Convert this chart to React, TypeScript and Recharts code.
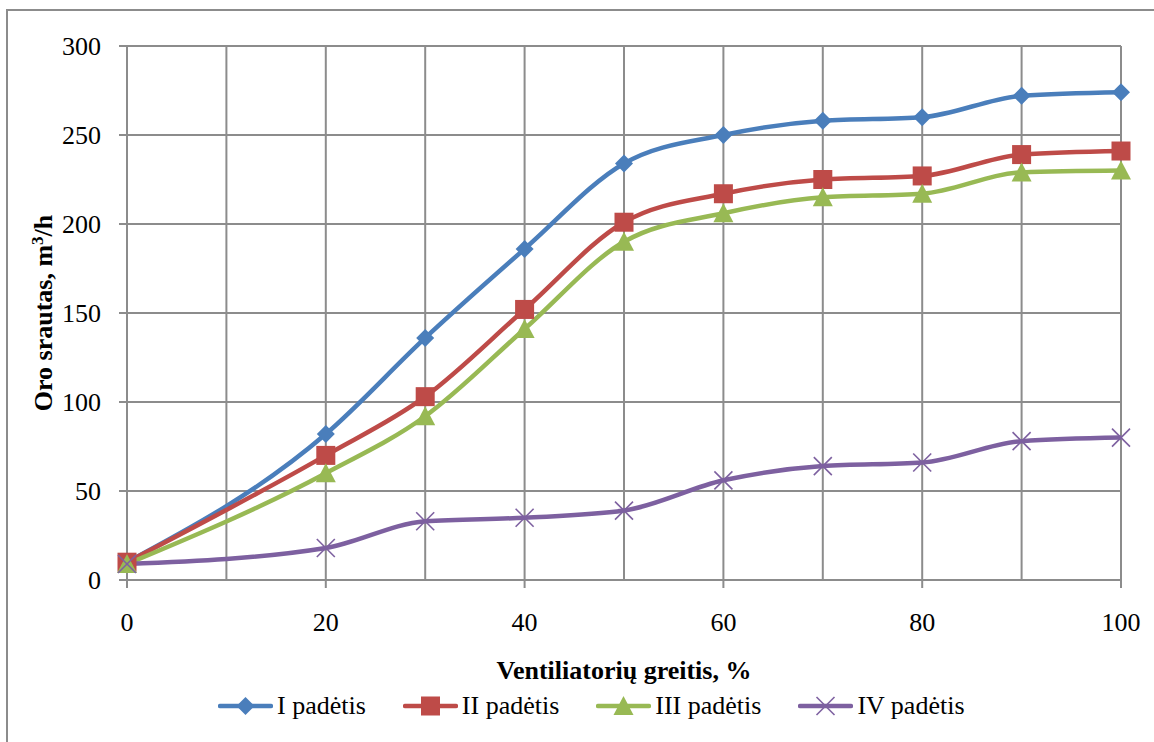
import React from 'react';
import { LineChart, Line, XAxis, YAxis, CartesianGrid, Label } from 'recharts';

// Oro srautas pagal ventiliatorių greitį, keturios padėtys
const xValues = [0, 20, 30, 40, 50, 60, 70, 80, 90, 100];
const seriesI = [10, 82, 136, 186, 234, 250, 258, 260, 272, 274];
const seriesII = [10, 70, 103, 152, 201, 217, 225, 227, 239, 241];
const seriesIII = [9, 60, 92, 141, 190, 206, 215, 217, 229, 230];
const seriesIV = [9, 18, 33, 35, 39, 56, 64, 66, 78, 80];

const xLabelTicks = [0, 20, 40, 60, 80, 100];
const xGridTicks = [0, 10, 20, 30, 40, 50, 60, 70, 80, 90, 100];
const yTicks = [0, 50, 100, 150, 200, 250, 300];

const seriesNames = ['I padėtis', 'II padėtis', 'III padėtis', 'IV padėtis'];

const data = xValues.map((x, i) => ({
  x,
  s1: seriesI[i],
  s2: seriesII[i],
  s3: seriesIII[i],
  s4: seriesIV[i],
}));

const C = {
  blue: '#4A7EBB',
  red: '#BE4B48',
  green: '#98B954',
  purple: '#7D60A0',
  grid: '#8c8c8c',
  ink: '#000000',
};

const FONT = "'Liberation Serif', 'Times New Roman', 'DejaVu Serif', serif";

type Shape = 'diamond' | 'square' | 'triangle' | 'cross';

function Marker({ cx, cy, shape, color }: { cx: number; cy: number; shape: Shape; color: string }) {
  if (shape === 'diamond') {
    return <polygon points={`${cx},${cy - 9} ${cx + 9},${cy} ${cx},${cy + 9} ${cx - 9},${cy}`} fill={color} />;
  }
  if (shape === 'square') {
    return <rect x={cx - 9.5} y={cy - 9.5} width={19} height={19} fill={color} />;
  }
  if (shape === 'triangle') {
    return <polygon points={`${cx},${cy - 10} ${cx + 10},${cy + 9} ${cx - 10},${cy + 9}`} fill={color} />;
  }
  return (
    <g stroke={color} strokeWidth={1.6}>
      <line x1={cx - 9} y1={cy - 9} x2={cx + 9} y2={cy + 9} />
      <line x1={cx - 9} y1={cy + 9} x2={cx + 9} y2={cy - 9} />
    </g>
  );
}

const dotFor = (shape: Shape, color: string) => (props: any) => {
  const { cx, cy, index } = props;
  if (cx == null || cy == null) return <g key={`${shape}-${index}`} />;
  return (
    <g key={`${shape}-${index}`}>
      <Marker cx={cx} cy={cy} shape={shape} color={color} />
    </g>
  );
};

const legendItems: Array<{ name: string; shape: Shape; color: string }> = [
  { name: seriesNames[0], shape: 'diamond', color: C.blue },
  { name: seriesNames[1], shape: 'square', color: C.red },
  { name: seriesNames[2], shape: 'triangle', color: C.green },
  { name: seriesNames[3], shape: 'cross', color: C.purple },
];

function ChartLegend() {
  return (
    <div
      style={{
        position: 'absolute',
        left: 218,
        top: 690,
        display: 'flex',
        alignItems: 'center',
        gap: 37,
        fontFamily: FONT,
        fontSize: 26,
        color: C.ink,
        whiteSpace: 'nowrap',
      }}
    >
      {legendItems.map(it => (
        <div key={it.name} style={{ display: 'flex', alignItems: 'center', gap: 4 }}>
          <svg width={55} height={24} style={{ display: 'block' }}>
            <line x1={2} y1={12} x2={53} y2={12} stroke={it.color} strokeWidth={4.5} strokeLinecap="round" />
            <Marker cx={27.5} cy={12} shape={it.shape} color={it.color} />
          </svg>
          <span style={{ lineHeight: '32px' }}>{it.name}</span>
        </div>
      ))}
    </div>
  );
}

export default function App() {
  const tick = { fontSize: 26, fill: C.ink, fontFamily: FONT };
  return (
    <div style={{ position: 'absolute', left: 0, top: 0, width: 1154, height: 742, overflow: 'hidden', background: '#fff', fontFamily: FONT }}>
      <div
        style={{
          position: 'absolute',
          left: 6,
          top: 9,
          width: 1170,
          height: 770,
          border: `2px solid ${C.grid}`,
          boxSizing: 'border-box',
        }}
      />
      <div style={{ position: 'absolute', left: 0, top: 0 }}>
        <LineChart width={1154} height={742} data={data} margin={{ top: 46, right: 33, left: 0, bottom: 0 }} style={{ fontFamily: FONT }}>
          <XAxis xAxisId="grid" type="number" dataKey="x" domain={[0, 100]} ticks={xGridTicks} hide />
          <CartesianGrid xAxisId="grid" stroke={C.grid} strokeWidth={2} />
          <XAxis
            type="number"
            dataKey="x"
            domain={[0, 100]}
            ticks={xLabelTicks}
            interval={0}
            height={162}
            tick={tick}
            tickSize={8}
            tickMargin={25}
            axisLine={{ stroke: C.grid, strokeWidth: 2 }}
            tickLine={{ stroke: C.grid, strokeWidth: 2 }}
          >
            <Label
              content={({ viewBox }: any) => (
                <text
                  x={viewBox.x + viewBox.width / 2}
                  y={viewBox.y + 99}
                  textAnchor="middle"
                  style={{ fontFamily: FONT, fontSize: 26, fontWeight: 'bold' }}
                  fill={C.ink}
                >
                  Ventiliatorių greitis, %
                </text>
              )}
            />
          </XAxis>
          <YAxis
            type="number"
            domain={[0, 300]}
            ticks={yTicks}
            interval={0}
            width={127}
            tick={tick}
            tickSize={8}
            tickMargin={18}
            axisLine={{ stroke: C.grid, strokeWidth: 2 }}
            tickLine={{ stroke: C.grid, strokeWidth: 2 }}
          >
            <Label
              content={({ viewBox }: any) => {
                const x = viewBox.x + 52;
                const y = viewBox.y + viewBox.height / 2;
                return (
                  <text
                    x={x}
                    y={y}
                    transform={`rotate(-90 ${x} ${y})`}
                    textAnchor="middle"
                    style={{ fontFamily: FONT, fontSize: 26, fontWeight: 'bold' }}
                    fill={C.ink}
                  >
                    Oro srautas, m<tspan baselineShift="super" fontSize={17}>3</tspan>/h
                  </text>
                );
              }}
            />
          </YAxis>
          <Line type="monotone" dataKey="s1" name={seriesNames[0]} stroke={C.blue} strokeWidth={4.5} dot={dotFor('diamond', C.blue)} activeDot={false} isAnimationActive={false} />
          <Line type="monotone" dataKey="s2" name={seriesNames[1]} stroke={C.red} strokeWidth={4.5} dot={dotFor('square', C.red)} activeDot={false} isAnimationActive={false} />
          <Line type="monotone" dataKey="s3" name={seriesNames[2]} stroke={C.green} strokeWidth={4.5} dot={dotFor('triangle', C.green)} activeDot={false} isAnimationActive={false} />
          <Line type="monotone" dataKey="s4" name={seriesNames[3]} stroke={C.purple} strokeWidth={4.5} dot={dotFor('cross', C.purple)} activeDot={false} isAnimationActive={false} />
        </LineChart>
      </div>
      <ChartLegend />
    </div>
  );
}
